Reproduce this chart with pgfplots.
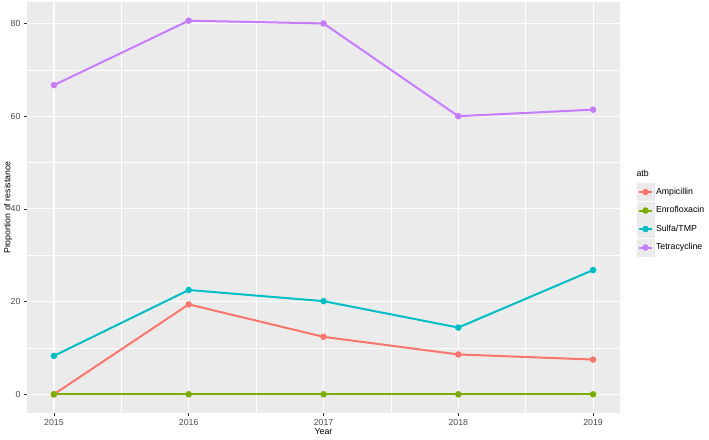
\documentclass[border=0pt]{standalone}
\usepackage{fontspec}
\setmainfont{Liberation Sans}
\usepackage{pgfplots}
\pgfplotsset{compat=1.18}
\definecolor{ggbg}{HTML}{EBEBEB}
\definecolor{ggtick}{HTML}{4D4D4D}
\definecolor{ggtk}{HTML}{333333}
\definecolor{cA}{HTML}{F8766D}
\definecolor{cE}{HTML}{7CAE00}
\definecolor{cS}{HTML}{00BFC4}
\definecolor{cT}{HTML}{C77CFF}
\begin{document}
\begin{tikzpicture}[x=1bp,y=1bp]
\useasboundingbox (0,0) rectangle (709,440);
\begin{axis}[
  at={(27bp,27bp)}, anchor=south west,
  scale only axis, width=593bp, height=411bp,
  xmin=2014.8, xmax=2019.2, ymin=-4.03, ymax=84.63,
  xtick={2015,2016,2017,2018,2019},
  ytick={0,20,40,60,80},
  minor xtick={2015.5,2016.5,2017.5,2018.5},
  minor ytick={10,30,50,70},
  grid=both,
  major grid style={white, line width=1.1bp},
  minor grid style={white, line width=0.55bp},
  axis background/.style={fill=ggbg},
  axis line style={draw=none},
  tick align=outside,
  major tick length=3bp, minor tick length=0bp,
  tick style={ggtk, line width=0.6bp},
  xtick pos=bottom, ytick pos=left,
  /pgf/number format/1000 sep={},
  /pgf/number format/assume math mode=true,
  ticklabel style={font=\fontsize{8.8}{10}\selectfont, text=ggtick},
  xlabel={Year}, ylabel={Proportion of resistance},
  label style={font=\fontsize{8.8}{10}\selectfont},
  xlabel style={at={(axis description cs:0.5,-0.046)}, anchor=center},
  ylabel style={at={(axis description cs:-0.032,0.5)}, anchor=center},
  clip=false,
  legend style={at={(1.0275,0.56)}, anchor=north west, draw=none, fill=none,
    inner sep=0pt, row sep=0.5bp, font=\fontsize{8.8}{10}\selectfont,
    nodes={inner sep=1.5bp}},
  legend cell align=left,
  legend image code/.code={
    \fill[ggbg] (0bp,-8bp) rectangle (16bp,8bp);
    \draw[mark repeat=2,mark phase=2,#1] plot coordinates {(1.5bp,0bp) (8bp,0bp) (14.5bp,0bp)};
  },
  every axis plot/.append style={line width=2bp, mark=*, mark size=2.2bp, mark options={solid}},
]
\addplot[cA] coordinates {(2015,0) (2016,19.4) (2017,12.4) (2018,8.6) (2019,7.5)};
\addplot[cE] coordinates {(2015,0) (2016,0) (2017,0) (2018,0) (2019,0)};
\addplot[cS] coordinates {(2015,8.3) (2016,22.5) (2017,20.1) (2018,14.4) (2019,26.8)};
\addplot[cT] coordinates {(2015,66.7) (2016,80.6) (2017,80.0) (2018,60.0) (2019,61.4)};
\legend{Ampicillin,Enrofloxacin,Sulfa/TMP,Tetracycline}
\node[anchor=west, font=\fontsize{8.8}{10}\selectfont, inner sep=0pt] at (rel axis cs:1.0275,0.584) {atb};
\end{axis}
\end{tikzpicture}
\end{document}
